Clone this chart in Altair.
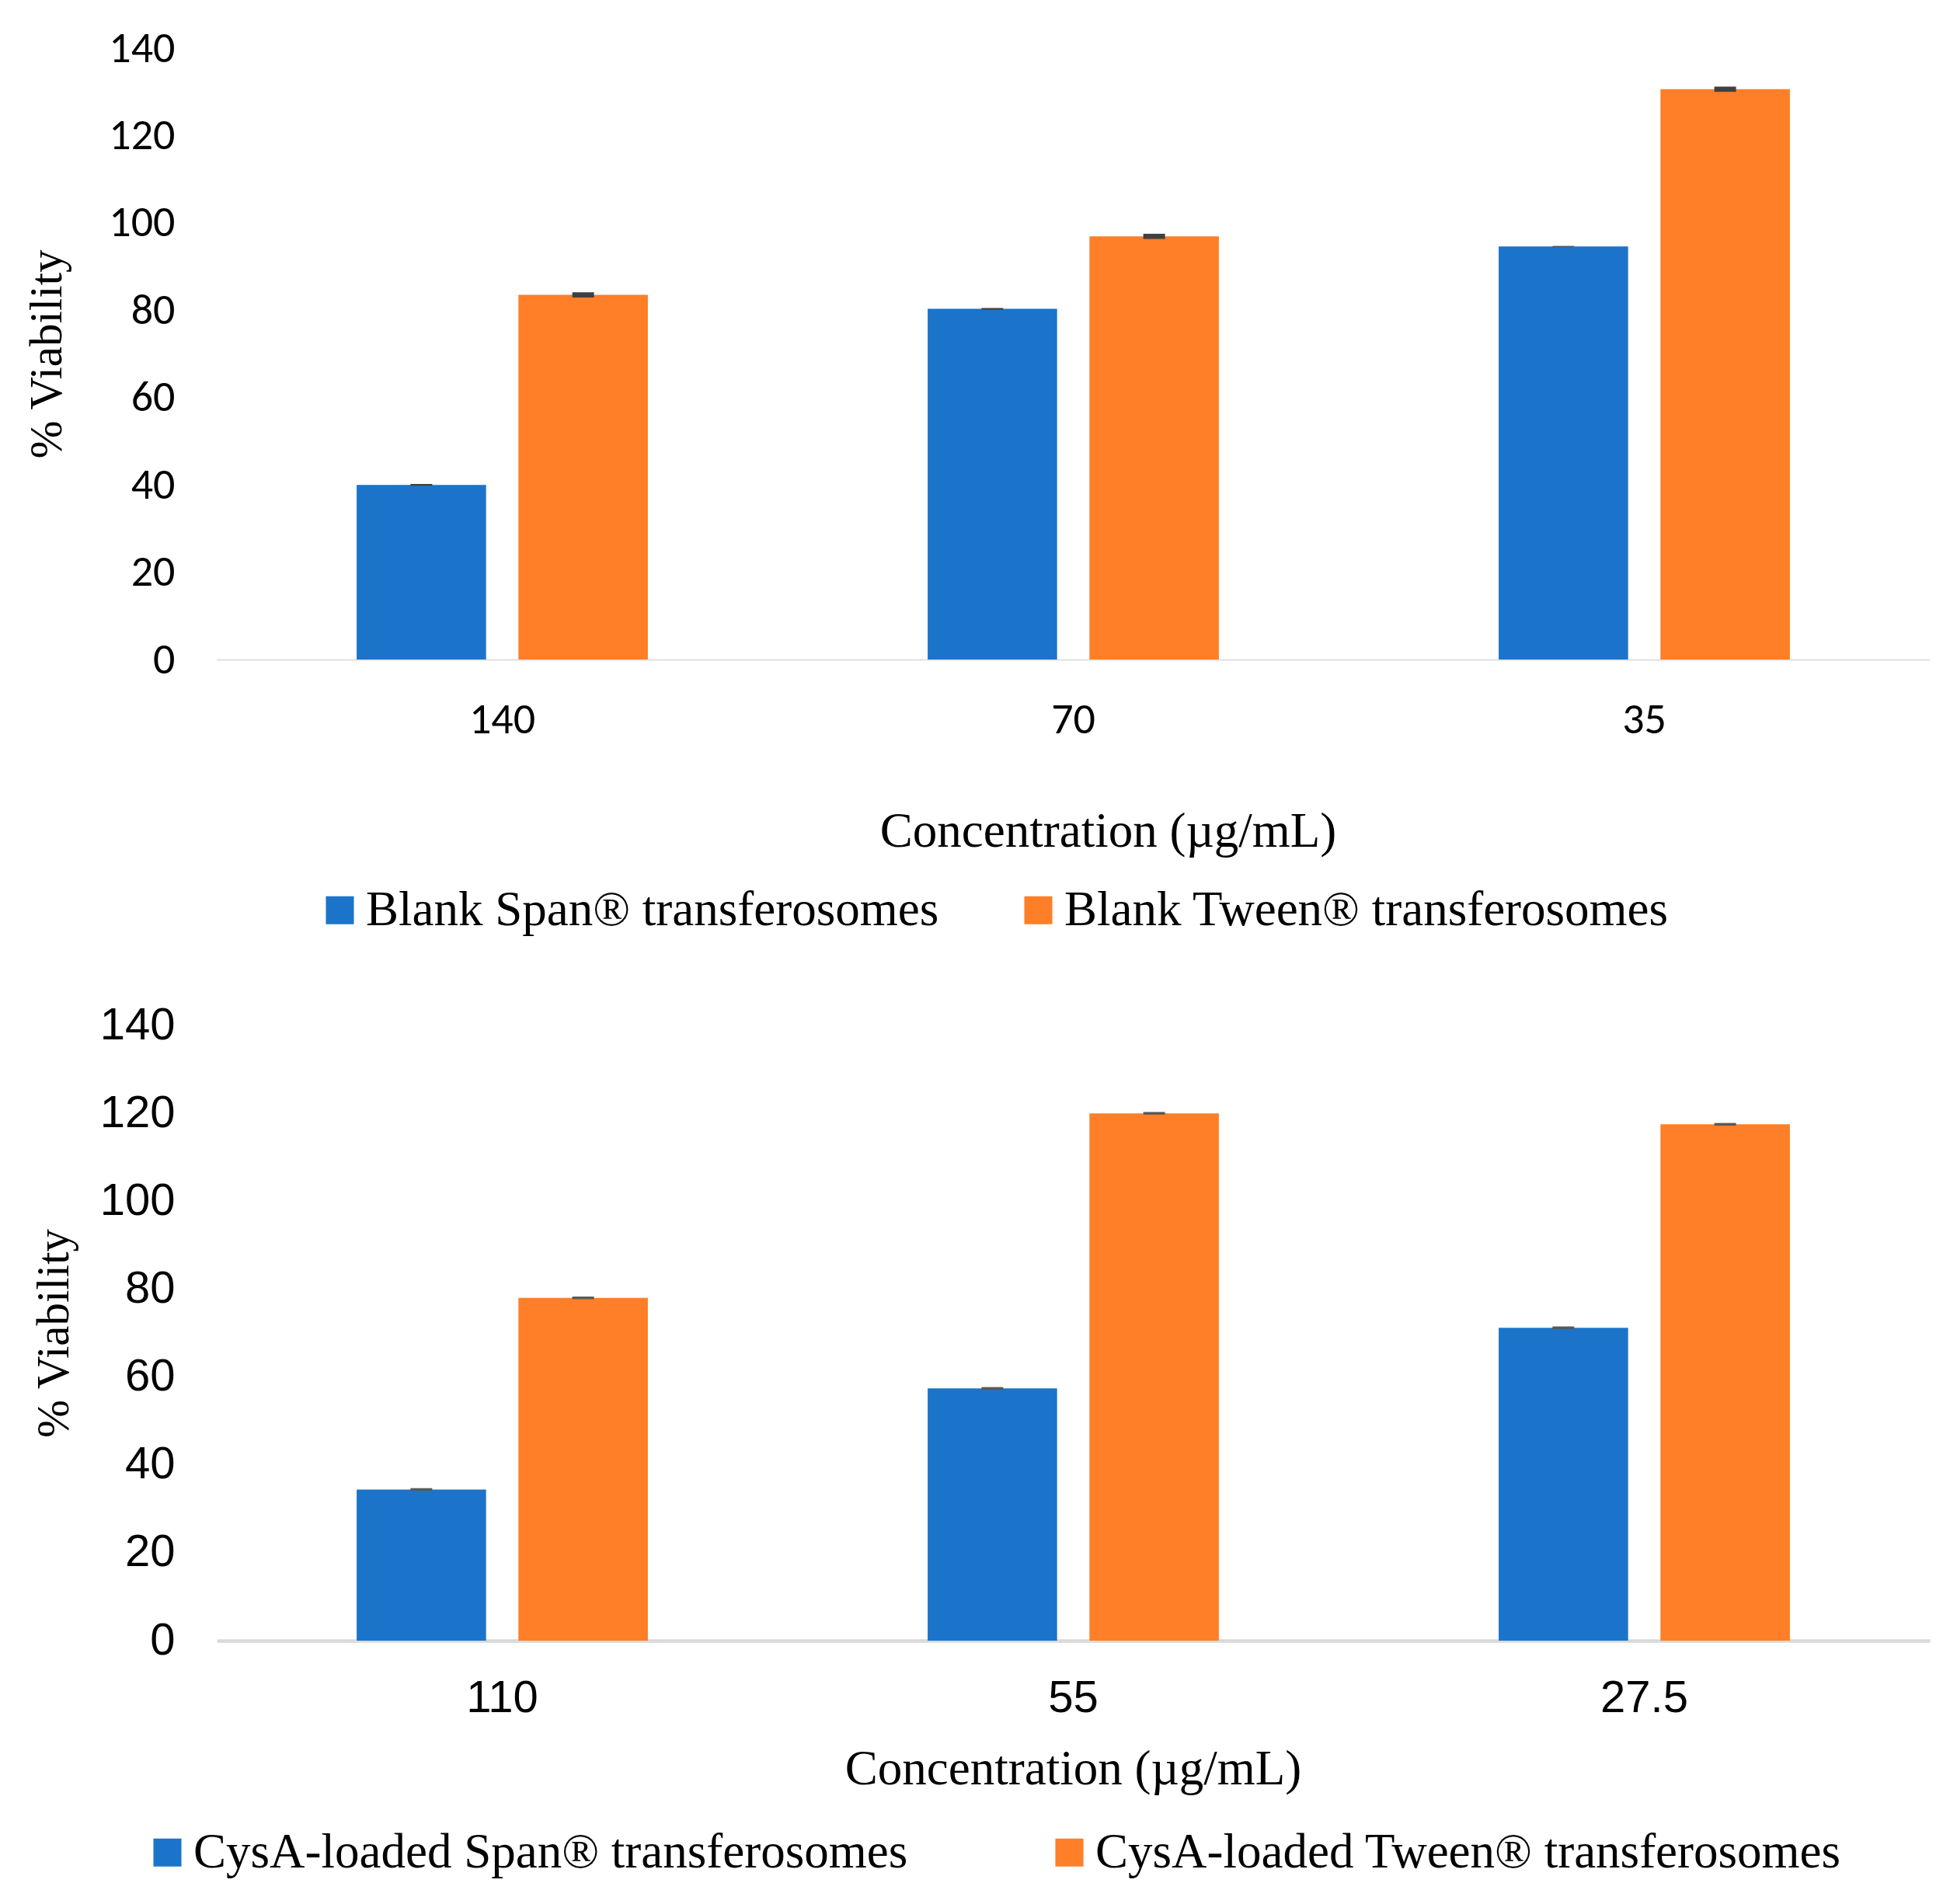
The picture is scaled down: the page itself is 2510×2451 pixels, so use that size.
import altair as alt
import pandas as pd

# top panel: blank transferosomes
conc_top = ["140", "70", "35"]
series_top = ["Blank Span® transferosomes", "Blank Tween® transferosomes"]
span_top = [40.0, 80.3, 94.6]
tween_top = [83.5, 96.9, 130.6]
span_top_err = [0.2, 0.2, 0.1]
tween_top_err = [0.6, 0.6, 0.6]

# bottom panel: CysA-loaded transferosomes
conc_bot = ["110", "55", "27.5"]
series_bot = ["CysA-loaded Span® transferosomes", "CysA-loaded Tween® transferosomes"]
span_bot = [34.4, 57.4, 71.2]
tween_bot = [78.0, 120.0, 117.5]
span_bot_err = [0.3, 0.3, 0.3]
tween_bot_err = [0.3, 0.3, 0.3]

colors = ["#1b74c9", "#fe7f27"]
serif = "Palatino Linotype, Book Antiqua, Liberation Serif"


def build_df(conc, series, span, tween, span_err, tween_err):
    rows = []
    for c, v, e in zip(conc, span, span_err):
        rows.append({"conc": c, "series": series[0], "value": v, "lo": v - e, "hi": v + e})
    for c, v, e in zip(conc, tween, tween_err):
        rows.append({"conc": c, "series": series[1], "value": v, "lo": v - e, "hi": v + e})
    return pd.DataFrame(rows)


def panel(df, conc, series, label_font, label_size, domain_color, domain_width,
          label_pad, title_pad, title_x, y_title_pad, legend_x, legend_y, col_pad,
          err_color, height):
    x = alt.X("conc:N", sort=conc,
              scale=alt.Scale(paddingInner=0.49, paddingOuter=0.245),
              axis=alt.Axis(title="Concentration (µg/mL)", labelAngle=0, ticks=False,
                            labelFont=label_font, labelFontSize=label_size, labelColor="black",
                            labelPadding=label_pad, domainColor=domain_color,
                            domainWidth=domain_width, titleFont=serif, titleFontSize=63,
                            titleFontWeight="normal", titleColor="black",
                            titlePadding=title_pad, titleX=title_x))
    xo = alt.XOffset("series:N", sort=series,
                     scale=alt.Scale(domain=series, paddingInner=0.2, paddingOuter=0))
    y_axis = alt.Axis(title="% Viability", values=[0, 20, 40, 60, 80, 100, 120, 140],
                      grid=False, domain=False, ticks=False, labelFont=label_font,
                      labelFontSize=label_size, labelColor="black", labelPadding=54,
                      titleFont=serif, titleFontSize=59, titleFontWeight="normal",
                      titleColor="black", titlePadding=y_title_pad)
    bars = alt.Chart(df).mark_bar().encode(
        x=x, xOffset=xo,
        y=alt.Y("value:Q", scale=alt.Scale(domain=[0, 140], nice=False), axis=y_axis),
        color=alt.Color("series:N", sort=series,
                        scale=alt.Scale(domain=series, range=colors),
                        legend=alt.Legend(title=None, orient="none", direction="horizontal",
                                          columns=2, legendX=legend_x, legendY=legend_y,
                                          symbolType="square", symbolSize=1300,
                                          symbolStrokeWidth=0, symbolOpacity=1,
                                          labelFont=serif, labelFontSize=63,
                                          labelColor="black", labelLimit=3000,
                                          labelOffset=2, columnPadding=col_pad)),
    )
    errs = alt.Chart(df).mark_bar(width=28, color=err_color).encode(
        x=x, xOffset=xo, y="lo:Q", y2="hi:Q",
    )
    return alt.layer(bars, errs).properties(width=2205, height=height)


df_top = build_df(conc_top, series_top, span_top, tween_top, span_top_err, tween_top_err)
df_bot = build_df(conc_bot, series_bot, span_bot, tween_bot, span_bot_err, tween_bot_err)

top = panel(df_top, conc_top, series_top, "Carlito, Lato", 56, "#e0e0e0", 2,
            50, 85, 1147, 49, 127, 1078, 96, "#404040", 787)
bot = panel(df_bot, conc_bot, series_bot, "Liberation Sans", 58, "#d9d9d9", 4.5,
            45, 31, 1102, 29, -95, 1033, 176, "#595959", 792)

chart = alt.vconcat(top, bot, spacing=87).resolve_scale(
    color="independent", x="independent", xOffset="independent"
).resolve_legend(color="independent").properties(
    padding={"left": 23, "top": 26, "right": 10, "bottom": 10},
    background="white",
).configure_view(stroke="transparent", strokeWidth=0)

chart.save("out.html", embed_options={"renderer": "svg", "actions": False})
